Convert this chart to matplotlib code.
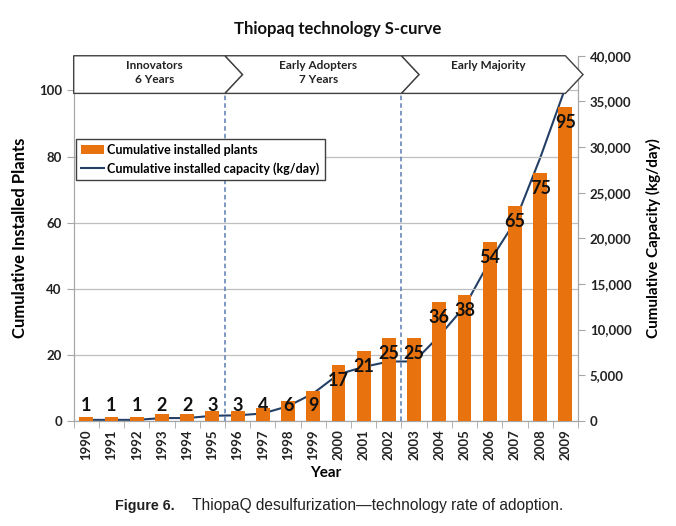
import numpy as np
import matplotlib.pyplot as plt
from matplotlib.patches import Polygon

years = [str(y) for y in range(1990, 2010)]
plants = [1, 1, 1, 2, 2, 3, 3, 4, 6, 9, 17, 21, 25, 25, 36, 38, 54, 65, 75, 95]
capacity = [100, 100, 100, 300, 300, 550, 600, 800, 1600, 3000, 5100, 5900,
            6500, 6500, 9300, 12500, 17500, 21800, 28800, 36500]
phases = ["Innovators\n6 Years", "Early Adopters\n7 Years", "Early Majority"]
phase_edges = [-0.5, 5.5, 12.5, 19.0]

plt.rcParams['font.family'] = ['Lato', 'DejaVu Sans']

fig = plt.figure(figsize=(6.76, 5.26), dpi=100)
ax = fig.add_axes([0.109, 0.2, 0.746, 0.694])
ax2 = ax.twinx()

x = np.arange(len(years))
orange = '#E8730E'
navy = '#243F66'
grey = '#A6A6A6'

ax.bar(x, plants, width=0.55, color=orange, zorder=3, label="Cumulative installed plants")
ax.set_ylim(0, 110.5)
ax.set_xlim(-0.5, 19.5)
ax.set_yticks([0, 20, 40, 60, 80, 100])
ax.yaxis.grid(True, color='#BFBFBF', lw=0.9, zorder=0)
ax.set_axisbelow(True)

for xi, v in zip(x, plants):
    ax.text(xi, max(v - 4.7, 4.6), str(v), ha='center', va='center',
            fontsize=13, fontweight='bold', color='#111111', zorder=6)

ax2.plot(x, capacity, color=navy, lw=1.5, zorder=5,
         label="Cumulative installed capacity (kg/day)")
ax2.set_ylim(0, 40000)
ax2.set_yticks(range(0, 40001, 5000))
ax2.set_yticklabels([f"{t:,}" for t in range(0, 40001, 5000)])

# phase dividers
for b in phase_edges[1:3]:
    ax.plot([b, b], [0, 99.3], ls=(0, (3, 2)), color='#5A7DB0', lw=1.1, zorder=4)

# chevrons on top
ytop, ybot = 110.5, 99.1
ymid = (ytop + ybot) / 2
d = 0.7
for i, txt in enumerate(phases):
    x0, x1 = phase_edges[i], phase_edges[i + 1]
    pts = [(x0, ytop), (x1, ytop), (x1 + d, ymid), (x1, ybot), (x0, ybot)]
    if i > 0:
        pts.append((x0 + d, ymid))
    ax.add_patch(Polygon(pts, closed=True, facecolor='white', edgecolor='#404040',
                         lw=1.0, zorder=7, clip_on=False))
    ax.text((x0 + x1) / 2 + 0.2, ytop - 1.3, txt, ha='center', va='top', fontsize=8.5,
            fontweight='bold', color='#222222', zorder=8, linespacing=1.3)

for a in (ax, ax2):
    for s in a.spines.values():
        s.set_color(grey)
    a.spines['top'].set_visible(False)
    a.tick_params(colors=grey, labelcolor='#222222', labelsize=9.5, length=5)
for lab in ax.get_yticklabels() + ax2.get_yticklabels():
    lab.set_fontweight('bold')

ax.set_xticks(x)
ax.set_xticklabels(years, rotation=90, fontweight='bold', fontsize=9.5)
ax.set_xticks(np.arange(-0.5, 20, 1), minor=True)
ax.tick_params(axis='x', which='major', length=0, pad=6)
ax.tick_params(axis='x', which='minor', length=5, color=grey)

ax.set_xlabel("Year", fontsize=11, fontweight='bold', labelpad=4)
ax.set_ylabel("Cumulative Installed Plants", fontsize=12, fontweight='bold', labelpad=8)
ax2.set_ylabel("Cumulative Capacity (kg/day)", fontsize=11, fontweight='bold', labelpad=10)

h1, l1 = ax.get_legend_handles_labels()
h2, l2 = ax2.get_legend_handles_labels()
leg = ax.legend(h1 + h2, l1 + l2, loc='upper left', bbox_to_anchor=(0.0, 0.78),
                fancybox=False, edgecolor='#404040', framealpha=1,
                handlelength=1.8, handletextpad=0.3, borderaxespad=0.2,
                prop={'weight': 'bold', 'size': 9})
leg.set_zorder(9)
ax.set_zorder(ax2.get_zorder() + 1)
ax.patch.set_visible(False)

fig.text(0.5, 0.935, "Thiopaq technology S-curve", ha='center', fontsize=12,
         fontweight='bold', color='#111111')
fig.text(0.170, 0.031, "Figure 6.", ha='left', fontsize=10.3, fontweight='bold',
         family='Liberation Sans', color='#222222')
fig.text(0.284, 0.031, "ThiopaQ desulfurization\u2014technology rate of adoption.",
         ha='left', fontsize=11.2, family='Liberation Sans', color='#222222')

fig.savefig("out.png", dpi=100)
